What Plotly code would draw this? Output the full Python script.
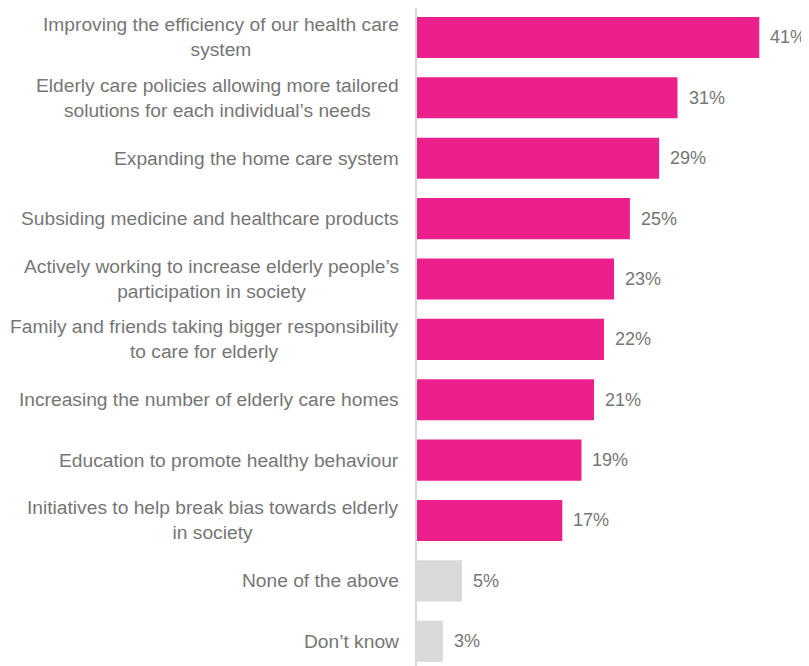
import plotly.graph_objects as go

categories = [
    "Improving the efficiency of our health care<br>system",
    "Elderly care policies allowing more tailored<br>solutions for each individual’s needs",
    "Expanding the home care system",
    "Subsiding medicine and healthcare products",
    "Actively working to increase elderly people’s<br>participation in society",
    "Family and friends taking bigger responsibility<br>to care for elderly",
    "Increasing the number of elderly care homes",
    "Education to promote healthy behaviour",
    "Initiatives to help break bias towards elderly<br>in society",
    "None of the above",
    "Don’t know",
]
values = [41.0, 31.2, 29.0, 25.5, 23.6, 22.4, 21.2, 19.7, 17.4, 5.4, 3.1]
value_labels = ["41%", "31%", "29%", "25%", "23%", "22%", "21%", "19%", "17%", "5%", "3%"]
bar_colors = ["#EB208C"] * 9 + ["#D9D9DB"] * 2

TEXT = "#767676"
FONT = "Liberation Sans, Arial, sans-serif"

ypos = list(range(len(categories)))

fig = go.Figure(
    go.Bar(
        x=values,
        y=ypos,
        orientation="h",
        marker=dict(color=bar_colors, line=dict(width=0)),
        width=0.68,
        hoverinfo="skip",
    )
)

annotations = []
for i, (cat, v, lab) in enumerate(zip(categories, values, value_labels)):
    annotations.append(dict(
        x=0, y=i, xref="x", yref="y", text=cat, showarrow=False,
        xanchor="right", yanchor="middle", align="center", xshift=-16,
        font=dict(family=FONT, size=19.2, color=TEXT),
    ))
    annotations.append(dict(
        x=v, y=i, xref="x", yref="y", text=lab, showarrow=False,
        xanchor="left", yanchor="middle", xshift=9,
        font=dict(family=FONT, size=18, color=TEXT),
    ))

fig.update_layout(
    width=801, height=658,
    margin=dict(l=409, r=0, t=0, b=0),
    paper_bgcolor="white", plot_bgcolor="white",
    showlegend=False,
    annotations=annotations,
    xaxis=dict(range=[0, 46.95], visible=False, fixedrange=True),
    yaxis=dict(
        range=[10.41, -0.488], showticklabels=False, showgrid=False,
        zeroline=False, showline=True, linecolor="#D9D9D9", linewidth=1.5,
        ticks="", fixedrange=True,
    ),
)

fig.write_html("out.html")
